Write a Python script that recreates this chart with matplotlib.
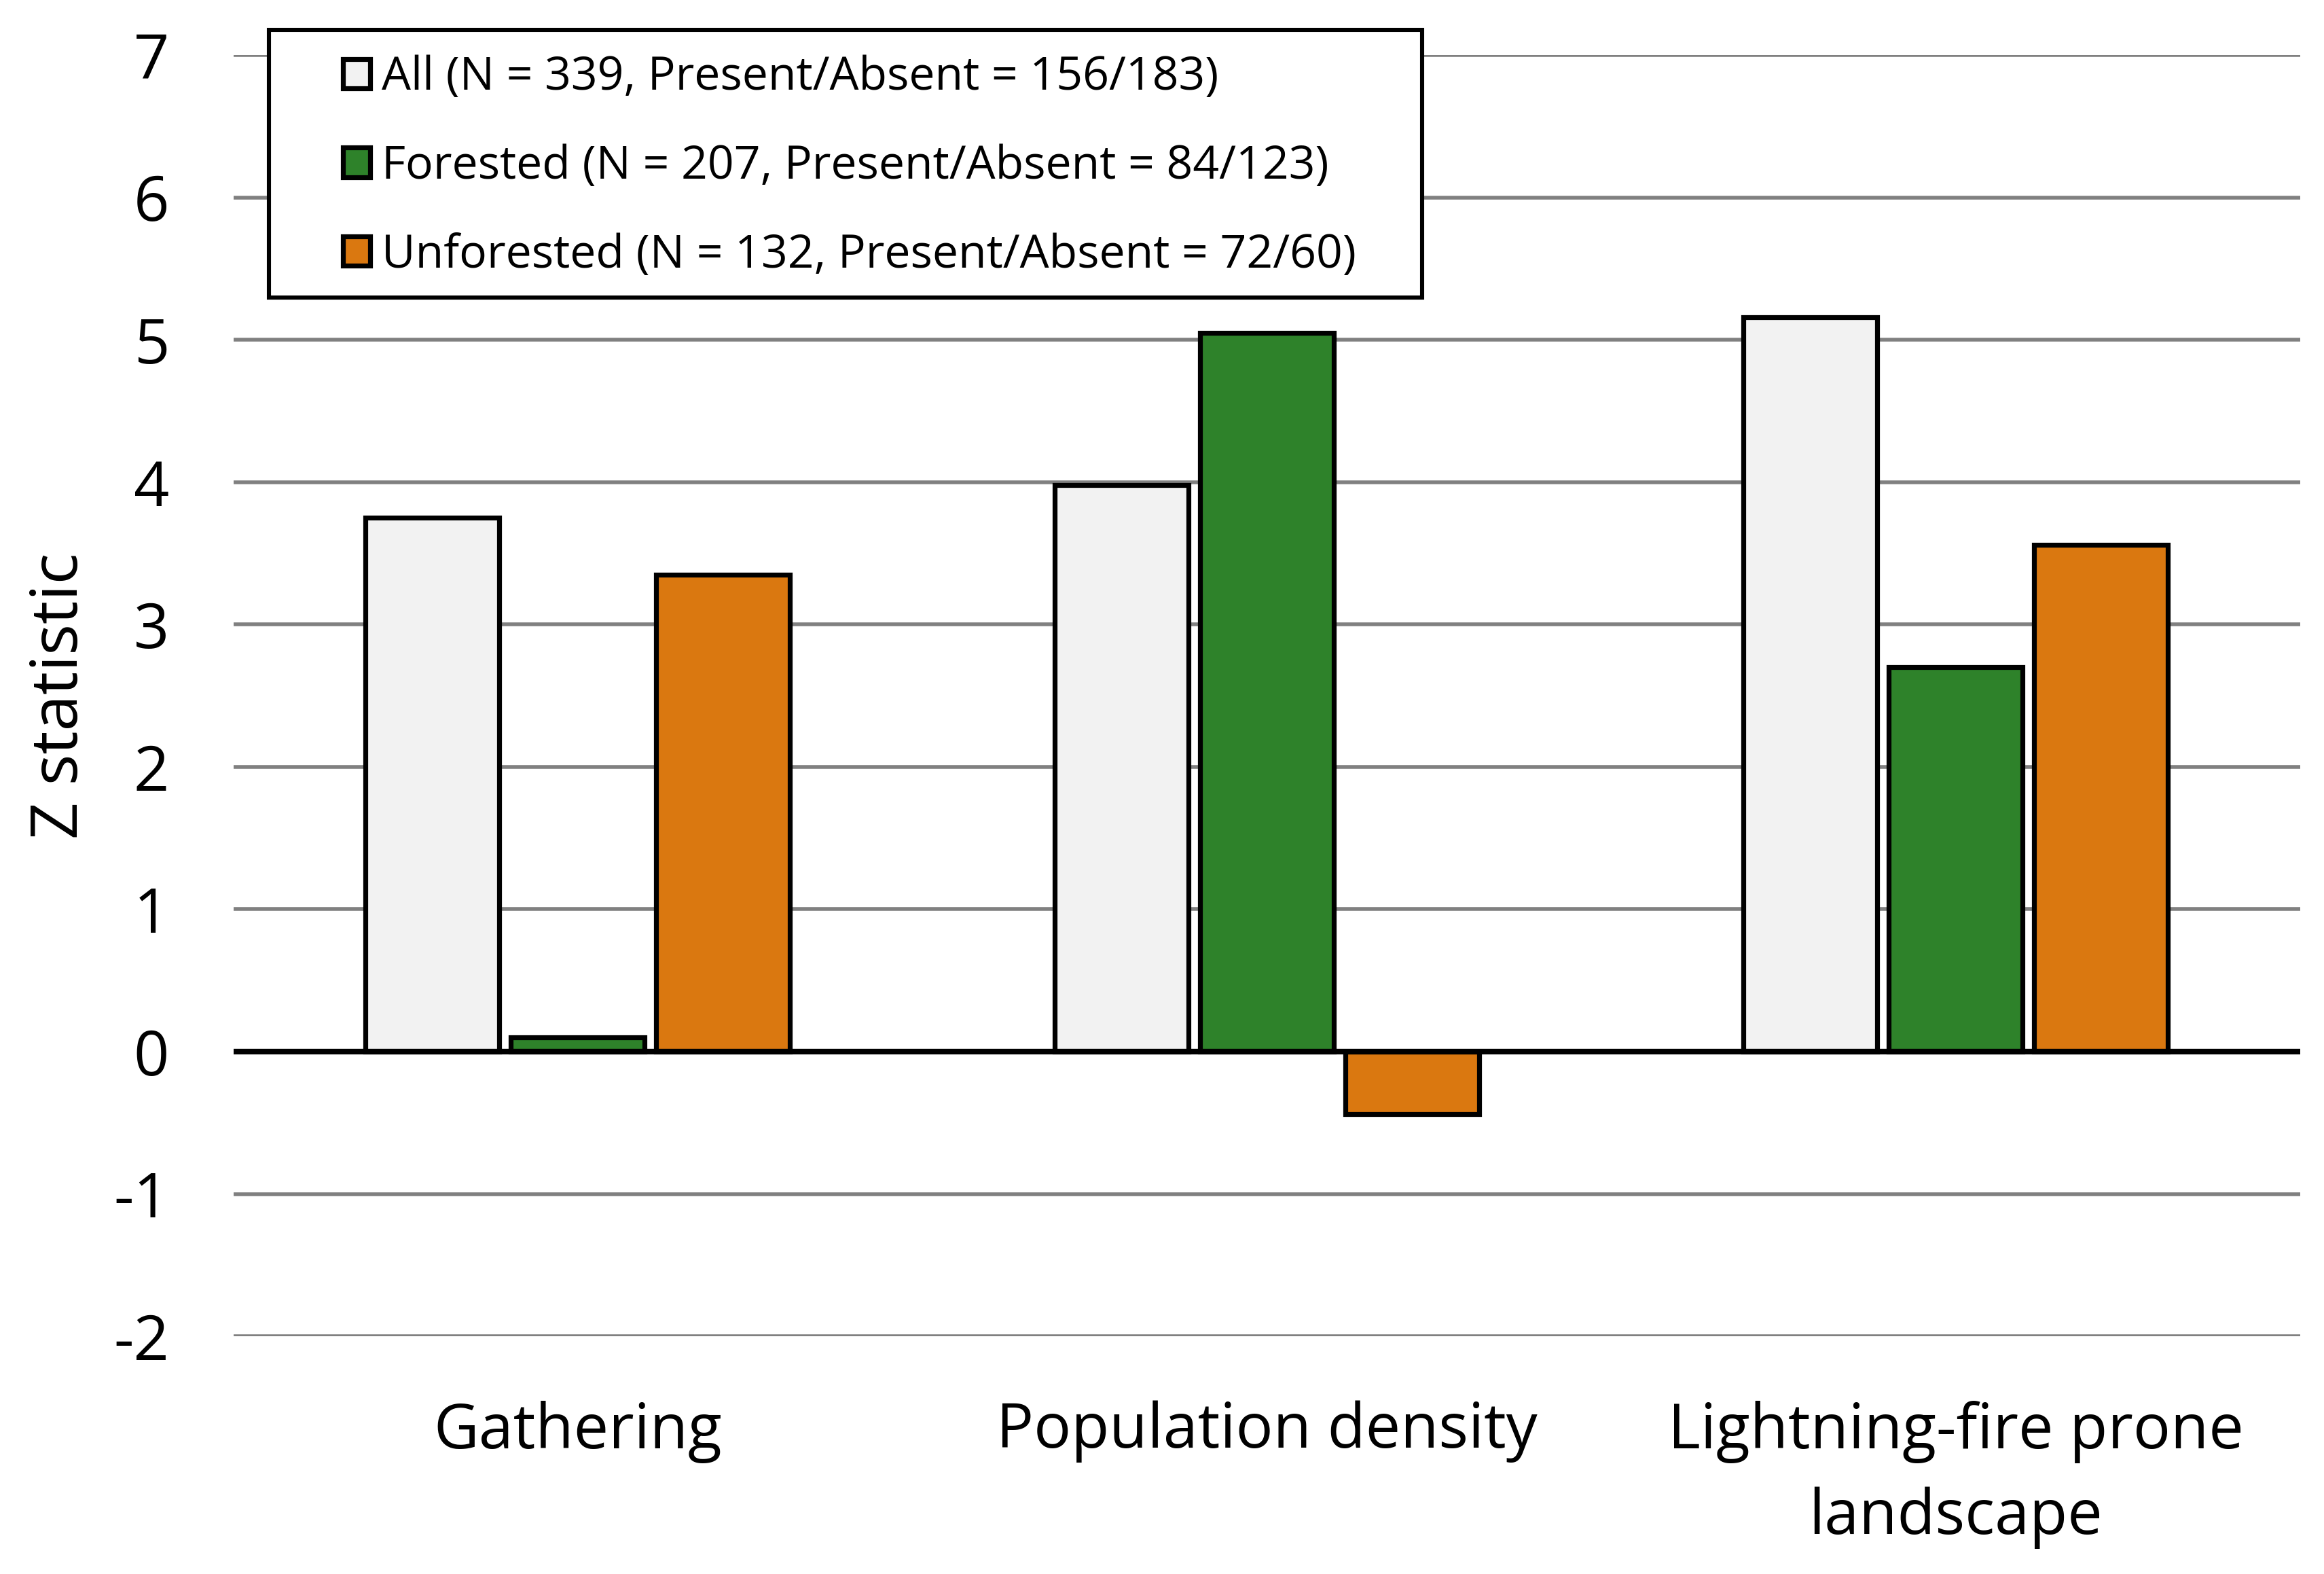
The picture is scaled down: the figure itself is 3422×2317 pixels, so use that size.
import numpy as np
import matplotlib.pyplot as plt
from matplotlib.patches import Rectangle

# ----- data -----
categories = ["Gathering", "Population density", "Lightning-fire prone\nlandscape"]
series_names = [
    "All (N = 339, Present/Absent = 156/183)",
    "Forested (N = 207, Present/Absent = 84/123)",
    "Unforested (N = 132, Present/Absent = 72/60)",
]
all_vals = [3.75, 3.98, 5.16]
forested_vals = [0.10, 5.05, 2.70]
unforested_vals = [3.35, -0.44, 3.56]
y_ticks = [-2, -1, 0, 1, 2, 3, 4, 5, 6, 7]

colors = ["#f2f2f2", "#2e822a", "#da7810"]

plt.rcParams['font.family'] = ['Open Sans', 'DejaVu Sans']

fig = plt.figure(figsize=(17.11, 11.585), dpi=200)
ax = fig.add_axes([0.1004, 0.151, 0.8894, 0.814])

x = np.arange(len(categories))
width = 0.194
step = 0.211
for i, vals in enumerate([all_vals, forested_vals, unforested_vals]):
    ax.bar(x + (i - 1) * step, vals, width, color=colors[i], edgecolor='black',
           linewidth=2.6, label=series_names[i], zorder=3)

ax.set_xlim(-0.5, 2.5)
ax.set_ylim(-2, 7)
ax.set_yticks(y_ticks)
ax.set_yticklabels([str(t) for t in y_ticks])
ax.set_xticks(x)
ax.set_xticklabels(categories, va='top', linespacing=1.5)

# grid lines + zero line
for t in y_ticks:
    if t != 0:
        ax.axhline(t, color='#808080', linewidth=2.0, zorder=1)
ax.axhline(0, color='black', linewidth=3.0, zorder=4)

for s in ax.spines.values():
    s.set_visible(False)
ax.tick_params(axis='both', length=0, labelsize=33)
ax.tick_params(axis='y', pad=34)
ax.tick_params(axis='x', pad=34)

ax.set_ylabel("Z statistic", fontsize=34.5, labelpad=11)

# legend box drawn separately so padding can differ per side
box = Rectangle((0.01725, 0.811), 0.5578, 0.2087, transform=ax.transAxes,
                facecolor='white', edgecolor='black', linewidth=2.2,
                clip_on=False, zorder=5)
ax.add_patch(box)
leg = ax.legend(loc='center left', bbox_to_anchor=(0.0532, 0.913), borderaxespad=0,
                fontsize=24.5, frameon=False,
                handlelength=0.58, handleheight=0.6, handletextpad=0.25,
                labelspacing=0.93, borderpad=0)
leg.set_zorder(6)

fig.savefig("out.png", dpi=200, facecolor='white')
